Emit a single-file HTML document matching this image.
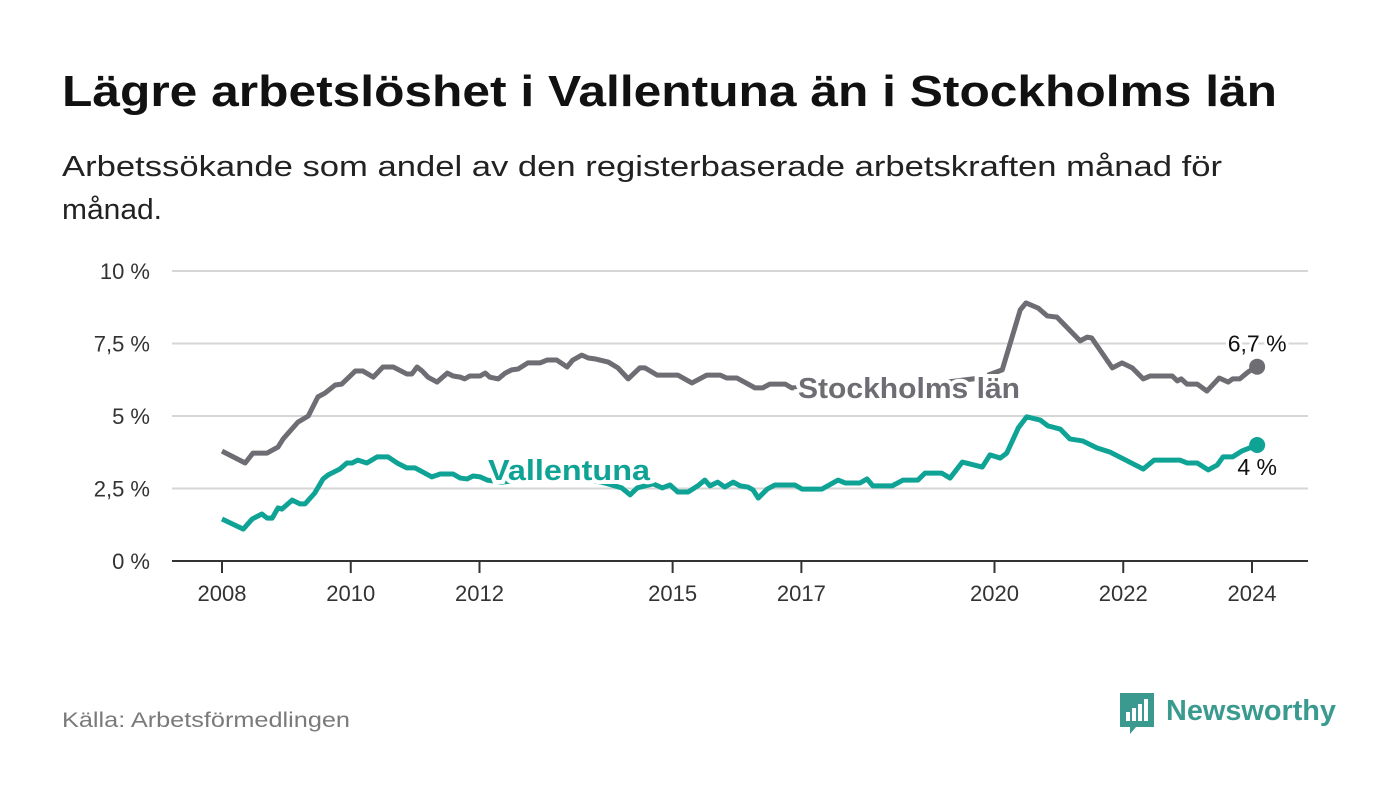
<!DOCTYPE html>
<html><head><meta charset="utf-8"><style>
html,body{margin:0;padding:0;background:#fff;width:1400px;height:794px;overflow:hidden}
svg text{font-family:"Liberation Sans",sans-serif}
</style></head><body>
<svg id="chart" width="1400" height="794" viewBox="0 0 1400 794" xmlns="http://www.w3.org/2000/svg">
<text x="62" y="106" font-size="44" font-weight="bold" fill="#111" textLength="1215" lengthAdjust="spacingAndGlyphs">Lägre arbetslöshet i Vallentuna än i Stockholms län</text>
<text x="62" y="176" font-size="29" fill="#222" textLength="1160" lengthAdjust="spacingAndGlyphs">Arbetssökande som andel av den registerbaserade arbetskraften månad för</text>
<text x="62" y="219" font-size="29" fill="#222" textLength="100" lengthAdjust="spacingAndGlyphs">månad.</text>
<g id="grid"></g><g id="xaxis"></g><g id="lines"></g><g id="labels"></g>
<text x="62" y="727" font-size="21" fill="#7a7a7a" textLength="288" lengthAdjust="spacingAndGlyphs">Källa: Arbetsförmedlingen</text>
<g>
<path d="M1120 693 h34 v34 h-18 l-6 7 v-7 h-10 z" fill="#3a9a8f"/>
<rect x="1126" y="712" width="4" height="9" fill="#fff"/><rect x="1132" y="708" width="4" height="13" fill="#fff"/><rect x="1138" y="704" width="4" height="17" fill="#fff"/><rect x="1144" y="699" width="4" height="22" fill="#fff"/>
<text x="1166" y="720" font-size="29" font-weight="bold" fill="#3a9a8f" textLength="170" lengthAdjust="spacingAndGlyphs">Newsworthy</text>
</g>
</svg>
<script>
const years=[2008,2010,2012,2015,2017,2020,2022,2024];
const yTicks=[0,2.5,5,7.5,10];
const yTickLabels=["0 %","2,5 %","5 %","7,5 %","10 %"];
const sthlmDates=[2008.00,2008.36,2008.48,2008.70,2008.87,2008.95,2009.18,2009.34,2009.49,2009.60,2009.76,2009.86,2010.07,2010.19,2010.35,2010.50,2010.66,2010.87,2010.95,2011.03,2011.11,2011.20,2011.34,2011.50,2011.59,2011.70,2011.77,2011.85,2012.01,2012.09,2012.16,2012.29,2012.40,2012.50,2012.60,2012.75,2012.94,2013.05,2013.20,2013.36,2013.45,2013.59,2013.69,2013.79,2014.00,2014.15,2014.31,2014.49,2014.57,2014.76,2015.08,2015.30,2015.53,2015.74,2015.84,2016.00,2016.28,2016.40,2016.51,2016.75,2016.85,2017.76,2019.00,2019.78,2020.12,2020.40,2020.49,2020.68,2020.82,2020.97,2021.33,2021.44,2021.51,2021.83,2021.98,2022.14,2022.31,2022.42,2022.76,2022.84,2022.90,2022.99,2023.15,2023.30,2023.49,2023.63,2023.70,2023.81,2023.94,2024.08];
const sthlmValues=[3.79,3.38,3.72,3.72,3.93,4.21,4.79,5.00,5.66,5.79,6.07,6.10,6.55,6.55,6.34,6.69,6.69,6.45,6.45,6.69,6.55,6.34,6.17,6.48,6.38,6.34,6.28,6.38,6.38,6.48,6.34,6.28,6.48,6.59,6.62,6.83,6.83,6.93,6.93,6.69,6.93,7.10,7.00,6.97,6.86,6.66,6.28,6.66,6.66,6.41,6.41,6.14,6.41,6.41,6.31,6.31,5.97,5.97,6.10,6.10,5.97,6.03,6.10,6.31,6.59,8.66,8.90,8.72,8.45,8.41,7.59,7.72,7.69,6.66,6.83,6.66,6.28,6.38,6.38,6.21,6.28,6.10,6.10,5.86,6.31,6.17,6.28,6.28,6.52,6.7];
const vallDates=[2008.00,2008.33,2008.47,2008.62,2008.70,2008.78,2008.87,2008.93,2009.09,2009.21,2009.29,2009.44,2009.57,2009.65,2009.83,2009.94,2010.02,2010.11,2010.25,2010.41,2010.58,2010.72,2010.87,2011.00,2011.26,2011.39,2011.59,2011.70,2011.81,2011.90,2012.01,2012.12,2012.35,2012.94,2013.56,2013.95,2014.21,2014.34,2014.45,2014.70,2014.84,2014.96,2015.08,2015.24,2015.39,2015.50,2015.58,2015.70,2015.81,2015.94,2016.05,2016.17,2016.25,2016.33,2016.47,2016.59,2016.90,2017.01,2017.32,2017.57,2017.68,2017.91,2018.02,2018.11,2018.41,2018.58,2018.81,2018.92,2019.18,2019.31,2019.50,2019.81,2019.93,2020.09,2020.19,2020.37,2020.50,2020.71,2020.83,2021.02,2021.17,2021.37,2021.59,2021.79,2022.31,2022.48,2022.88,2022.99,2023.15,2023.32,2023.46,2023.55,2023.70,2023.84,2024.08];
const vallValues=[1.45,1.10,1.45,1.62,1.48,1.48,1.83,1.79,2.10,1.97,1.97,2.34,2.83,2.97,3.17,3.38,3.38,3.48,3.38,3.59,3.59,3.38,3.21,3.21,2.90,3.00,3.00,2.86,2.83,2.93,2.90,2.79,2.72,2.86,2.86,2.69,2.52,2.28,2.52,2.66,2.52,2.62,2.38,2.38,2.59,2.79,2.59,2.72,2.55,2.72,2.59,2.55,2.45,2.17,2.48,2.62,2.62,2.48,2.48,2.79,2.69,2.69,2.83,2.59,2.59,2.79,2.79,3.03,3.03,2.86,3.41,3.24,3.66,3.55,3.72,4.59,4.97,4.86,4.66,4.55,4.21,4.14,3.90,3.76,3.17,3.48,3.48,3.38,3.38,3.14,3.31,3.59,3.59,3.79,4.0];
const NS="http://www.w3.org/2000/svg";
const X=y=>222+(y-2008)*64.375;
const Y=v=>561-v*29;
function mk(tag,attrs,parent,text){const e=document.createElementNS(NS,tag);for(const k in attrs)e.setAttribute(k,attrs[k]);if(text!==undefined)e.textContent=text;parent.appendChild(e);return e;}
const grid=document.getElementById('grid');
yTicks.forEach((t,i)=>{
  const l=mk('line',{x1:172,x2:1308,y1:Y(t),y2:Y(t),stroke:i===0?'#333':'#d6d6d6','stroke-width':2},grid);
  
  
  const tx=mk('text',{x:150,y:Y(t)+8,'font-size':22,'text-anchor':'end',fill:'#333'},grid,yTickLabels[i]);
  
  
});
const xa=document.getElementById('xaxis');
years.forEach(yr=>{
  const t=mk('line',{x1:X(yr),x2:X(yr),y1:561,y2:573,stroke:'#333','stroke-width':2},xa);
  
  
  const tx=mk('text',{x:X(yr),y:601,'font-size':22,'text-anchor':'middle',fill:'#333'},xa,String(yr));
  
  
});
const lines=document.getElementById('lines');
function series(d,v,color,name){
  const p=mk('polyline',{points:d.map((x,i)=>X(x)+','+Y(v[i])).join(' '),fill:'none',stroke:color,'stroke-width':5,'stroke-linejoin':'round'},lines);
  
  
  const n=d.length-1;
  const c=mk('circle',{cx:X(d[n]),cy:Y(v[n]),r:8,fill:color},lines);
  
  
}
series(sthlmDates,sthlmValues,'#6e6d73','stockholm');
series(vallDates,vallValues,'#0fa396','vallentuna');
const lb=document.getElementById('labels');
const l1=mk('text',{x:798,y:398,'font-size':29,'font-weight':'bold',fill:'#6e6d73',stroke:'#fff','stroke-width':8,'paint-order':'stroke',textLength:222,lengthAdjust:'spacingAndGlyphs'},lb,'Stockholms län');


const l2=mk('text',{x:488,y:480,'font-size':29,'font-weight':'bold',fill:'#0fa396',stroke:'#fff','stroke-width':8,'paint-order':'stroke',textLength:162,lengthAdjust:'spacingAndGlyphs'},lb,'Vallentuna');


const n1=sthlmDates.length-1,n2=vallDates.length-1;
const v1=mk('text',{x:X(sthlmDates[n1]),y:Y(sthlmValues[n1])-15,'font-size':23,'text-anchor':'middle',fill:'#111',stroke:'#fff','stroke-width':6,'paint-order':'stroke'},lb,String(sthlmValues[n1]).replace('.',',')+' %');


const v2=mk('text',{x:X(vallDates[n2]),y:Y(vallValues[n2])+30,'font-size':23,'text-anchor':'middle',fill:'#111',stroke:'#fff','stroke-width':6,'paint-order':'stroke'},lb,String(vallValues[n2]).replace('.',',')+' %');


</script>
</body></html>
